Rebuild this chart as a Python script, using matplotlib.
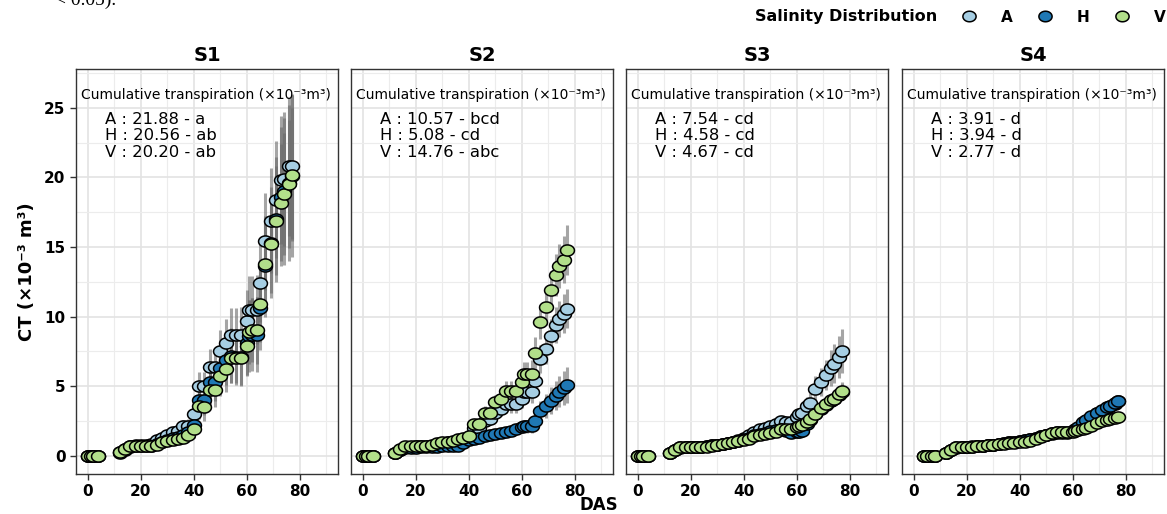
import matplotlib.pyplot as plt
import numpy as np
from matplotlib.path import Path
from matplotlib.lines import Line2D
from matplotlib.ticker import MultipleLocator

DAYS = [0, 1, 2, 4, 12, 14, 16, 18, 20, 22, 24, 26, 28, 30, 32, 34, 36, 38, 40, 42,
	44, 46, 48, 50, 52, 54, 56, 58, 60, 61, 62, 64, 65, 67, 69, 71, 73, 74, 76, 77]
DAYS_S4 = [4, 5, 7, 8] + DAYS[4:]

# cumulative transpiration (x10^-3 m3)
S1_A = [0, 0, 0, 0, 0.25, 0.5, 0.7, 0.75, 0.78, 0.8, 0.85, 1.1, 1.3, 1.45, 1.67, 1.8, 2.15, 2.15, 3.0, 5.0,
	5.0, 6.4, 6.4, 7.5, 8.1, 8.7, 8.7, 8.7, 9.7, 10.5, 10.5, 10.5, 12.4, 15.4, 16.9, 18.4, 19.8, 19.9, 20.8, 20.8]
S1_H = [0, 0, 0, 0, 0.2, 0.4, 0.65, 0.68, 0.7, 0.7, 0.72, 0.85, 1.0, 1.15, 1.25, 1.35, 1.5, 1.7, 2.2, 4.0,
	4.0, 5.3, 5.3, 6.3, 6.9, 7.2, 7.1, 7.1, 8.1, 8.6, 8.7, 8.7, 10.6, 13.6, 15.3, 17.0, 18.6, 19.0, 19.6, 20.1]
S1_V = [0, 0, 0, 0, 0.25, 0.45, 0.68, 0.7, 0.7, 0.7, 0.72, 0.8, 0.95, 1.05, 1.1, 1.17, 1.3, 1.45, 1.9, 3.6,
	3.5, 4.7, 4.7, 5.7, 6.2, 7.0, 7.0, 7.0, 7.9, 8.9, 9.0, 9.0, 10.9, 13.8, 15.2, 16.9, 18.2, 18.8, 19.5, 20.2]

S2_A = [0, 0, 0, 0, 0.2, 0.42, 0.62, 0.65, 0.66, 0.67, 0.68, 0.72, 0.82, 0.9, 0.95, 1.0, 1.1, 1.2, 1.35, 1.96,
	1.96, 2.5, 2.6, 3.1, 3.35, 3.7, 3.7, 3.7, 4.1, 4.6, 4.55, 4.55, 5.4, 6.95, 7.7, 8.6, 9.4, 9.8, 10.2, 10.57]
S2_H = [0, 0, 0, 0, 0.18, 0.38, 0.55, 0.57, 0.58, 0.6, 0.6, 0.62, 0.65, 0.67, 0.7, 0.72, 0.72, 0.9, 1.1, 1.2,
	1.3, 1.4, 1.5, 1.55, 1.65, 1.7, 1.75, 1.95, 2.05, 2.1, 2.1, 2.1, 2.5, 3.2, 3.55, 3.95, 4.3, 4.6, 4.85, 5.08]
S2_V = [0, 0, 0, 0, 0.2, 0.45, 0.67, 0.68, 0.68, 0.68, 0.68, 0.75, 0.9, 0.96, 1.0, 1.08, 1.2, 1.3, 1.4, 2.27,
	2.27, 3.1, 3.1, 3.83, 4.1, 4.66, 4.66, 4.66, 5.3, 5.85, 5.85, 5.85, 7.4, 9.6, 10.66, 11.9, 13.0, 13.65, 14.1, 14.76]

S3_A = [0, 0, 0, 0, 0.2, 0.44, 0.6, 0.6, 0.6, 0.62, 0.64, 0.67, 0.73, 0.8, 0.86, 0.93, 1.0, 1.1, 1.3, 1.5,
	1.7, 1.9, 2.0, 2.15, 2.3, 2.5, 2.45, 2.4, 2.8, 3.0, 3.1, 3.6, 3.8, 4.8, 5.3, 5.8, 6.3, 6.6, 7.1, 7.54]
S3_H = [0, 0, 0, 0, 0.2, 0.42, 0.58, 0.6, 0.6, 0.6, 0.62, 0.66, 0.73, 0.78, 0.85, 0.92, 1.0, 1.08, 1.2, 1.3,
	1.45, 1.55, 1.65, 1.75, 1.85, 1.95, 1.75, 1.66, 1.68, 1.7, 1.75, 2.3, 2.55, 3.0, 3.35, 3.65, 3.95, 4.1, 4.35, 4.58]
S3_V = [0, 0, 0, 0, 0.2, 0.44, 0.6, 0.6, 0.6, 0.6, 0.62, 0.65, 0.72, 0.77, 0.84, 0.9, 0.96, 1.02, 1.12, 1.22,
	1.38, 1.48, 1.58, 1.65, 1.72, 1.9, 1.9, 1.9, 2.05, 2.15, 2.2, 2.45, 2.6, 3.0, 3.4, 3.7, 3.98, 4.1, 4.4, 4.67]

S4_A = [0, 0, 0, 0, 0.2, 0.4, 0.6, 0.63, 0.65, 0.66, 0.68, 0.71, 0.76, 0.8, 0.84, 0.9, 0.95, 1.0, 1.05, 1.1,
	1.18, 1.28, 1.38, 1.48, 1.58, 1.66, 1.65, 1.66, 1.74, 1.85, 1.98, 2.38, 2.5, 2.78, 3.04, 3.24, 3.45, 3.55, 3.72, 3.91]
S4_H = [0, 0, 0, 0, 0.18, 0.38, 0.58, 0.62, 0.64, 0.65, 0.67, 0.7, 0.76, 0.8, 0.85, 0.9, 0.95, 1.0, 1.05, 1.12,
	1.2, 1.3, 1.4, 1.5, 1.6, 1.68, 1.67, 1.67, 1.75, 1.9, 2.05, 2.45, 2.58, 2.85, 3.1, 3.3, 3.5, 3.6, 3.78, 3.94]
S4_V = [0, 0, 0, 0, 0.19, 0.4, 0.6, 0.63, 0.65, 0.65, 0.66, 0.68, 0.74, 0.78, 0.82, 0.86, 0.9, 0.93, 0.96, 1.0,
	1.06, 1.18, 1.32, 1.5, 1.62, 1.72, 1.68, 1.67, 1.72, 1.78, 1.82, 1.95, 2.02, 2.15, 2.32, 2.46, 2.58, 2.63, 2.72, 2.77]

# standard deviations
S1_A_SD = [0, 0, 0, 0, 0.05, 0.05, 0.08, 0.1, 0.1, 0.1, 0.1, 0.15, 0.2, 0.25, 0.3, 0.35, 0.4, 0.45, 0.6, 1.0,
	1.0, 1.3, 1.3, 1.5, 1.7, 1.9, 1.9, 2.0, 2.2, 2.4, 2.4, 2.5, 2.8, 3.5, 3.8, 4.2, 4.6, 4.8, 5.0, 5.2]
S1_H_SD = [0, 0, 0, 0, 0.05, 0.05, 0.08, 0.1, 0.1, 0.1, 0.1, 0.15, 0.2, 0.25, 0.3, 0.35, 0.4, 0.5, 0.7, 1.1,
	1.1, 1.4, 1.4, 1.6, 1.8, 2.0, 2.0, 2.1, 2.4, 2.6, 2.6, 2.7, 3.0, 3.6, 4.0, 4.5, 5.0, 5.3, 5.6, 5.8]
S1_V_SD = [0, 0, 0, 0, 0.05, 0.05, 0.08, 0.1, 0.1, 0.1, 0.1, 0.15, 0.2, 0.25, 0.3, 0.35, 0.4, 0.45, 0.6, 1.0,
	1.0, 1.2, 1.2, 1.4, 1.6, 1.8, 1.8, 1.9, 2.1, 2.3, 2.3, 2.4, 2.7, 3.2, 3.5, 3.9, 4.2, 4.4, 4.6, 4.8]
S2_A_SD = [0, 0, 0, 0, 0.03, 0.04, 0.05, 0.05, 0.05, 0.05, 0.05, 0.06, 0.08, 0.1, 0.1, 0.12, 0.14, 0.16, 0.2, 0.3,
	0.3, 0.4, 0.4, 0.5, 0.5, 0.6, 0.6, 0.6, 0.7, 0.8, 0.8, 0.8, 0.9, 1.0, 1.1, 1.2, 1.3, 1.3, 1.4, 1.4]
S2_H_SD = [0, 0, 0, 0, 0.03, 0.04, 0.05, 0.05, 0.05, 0.05, 0.05, 0.05, 0.06, 0.07, 0.08, 0.08, 0.1, 0.12, 0.15, 0.18,
	0.2, 0.22, 0.24, 0.26, 0.28, 0.3, 0.3, 0.35, 0.4, 0.45, 0.45, 0.5, 0.6, 0.75, 0.85, 0.95, 1.05, 1.1, 1.2, 1.3]
S2_V_SD = [0, 0, 0, 0, 0.03, 0.04, 0.05, 0.05, 0.05, 0.05, 0.05, 0.06, 0.08, 0.1, 0.1, 0.12, 0.14, 0.16, 0.2, 0.35,
	0.35, 0.45, 0.5, 0.55, 0.6, 0.7, 0.7, 0.75, 0.8, 0.9, 0.9, 1.0, 1.1, 1.2, 1.3, 1.4, 1.5, 1.6, 1.7, 1.8]
S3_A_SD = [0, 0, 0, 0, 0.02, 0.03, 0.03, 0.03, 0.03, 0.03, 0.04, 0.04, 0.05, 0.05, 0.06, 0.06, 0.07, 0.08, 0.1, 0.12,
	0.14, 0.16, 0.18, 0.2, 0.22, 0.25, 0.25, 0.3, 0.4, 0.45, 0.5, 0.6, 0.7, 0.9, 1.0, 1.1, 1.3, 1.4, 1.5, 1.6]
S3_H_SD = [0, 0, 0, 0, 0.02, 0.03, 0.03, 0.03, 0.03, 0.03, 0.03, 0.03, 0.04, 0.04, 0.05, 0.05, 0.05, 0.06, 0.07, 0.08,
	0.09, 0.1, 0.11, 0.12, 0.13, 0.15, 0.15, 0.18, 0.2, 0.22, 0.24, 0.26, 0.3, 0.35, 0.4, 0.45, 0.5, 0.52, 0.55, 0.6]
S3_V_SD = [0, 0, 0, 0, 0.02, 0.03, 0.03, 0.03, 0.03, 0.03, 0.03, 0.03, 0.04, 0.04, 0.05, 0.05, 0.05, 0.06, 0.07, 0.08,
	0.09, 0.1, 0.11, 0.12, 0.13, 0.15, 0.15, 0.18, 0.2, 0.22, 0.24, 0.26, 0.3, 0.35, 0.4, 0.45, 0.5, 0.55, 0.6, 0.65]
S4_A_SD = [0, 0, 0, 0, 0.02, 0.02, 0.02, 0.02, 0.02, 0.03, 0.03, 0.03, 0.03, 0.04, 0.04, 0.04, 0.05, 0.05, 0.05, 0.06,
	0.06, 0.07, 0.07, 0.08, 0.08, 0.09, 0.09, 0.1, 0.1, 0.11, 0.12, 0.13, 0.14, 0.15, 0.16, 0.18, 0.2, 0.2, 0.22, 0.24]
S4_H_SD = [0, 0, 0, 0, 0.02, 0.02, 0.02, 0.02, 0.02, 0.03, 0.03, 0.03, 0.03, 0.04, 0.04, 0.04, 0.05, 0.05, 0.05, 0.06,
	0.06, 0.07, 0.07, 0.08, 0.08, 0.09, 0.09, 0.1, 0.1, 0.11, 0.12, 0.14, 0.15, 0.16, 0.18, 0.2, 0.22, 0.22, 0.24, 0.26]
S4_V_SD = [0, 0, 0, 0, 0.02, 0.02, 0.02, 0.02, 0.02, 0.03, 0.03, 0.03, 0.03, 0.04, 0.04, 0.04, 0.05, 0.05, 0.05, 0.06,
	0.06, 0.07, 0.07, 0.08, 0.08, 0.09, 0.09, 0.1, 0.1, 0.1, 0.11, 0.12, 0.12, 0.13, 0.14, 0.15, 0.16, 0.16, 0.17, 0.18]

PANELS = ['S1', 'S2', 'S3', 'S4']
TREATMENTS = ['A', 'H', 'V']
COLORS = {'A': '#a6cee3', 'H': '#1f78b4', 'V': '#b2df8a'}
CT_LINES = [
	['A : 21.88 - a', 'H : 20.56 - ab', 'V : 20.20 - ab'],
	['A : 10.57 - bcd', 'H : 5.08 - cd', 'V : 14.76 - abc'],
	['A : 7.54 - cd', 'H : 4.58 - cd', 'V : 4.67 - cd'],
	['A : 3.91 - d', 'H : 3.94 - d', 'V : 2.77 - d'],
]

series = {
	'S1': (DAYS, [(S1_A, S1_A_SD), (S1_H, S1_H_SD), (S1_V, S1_V_SD)]),
	'S2': (DAYS, [(S2_A, S2_A_SD), (S2_H, S2_H_SD), (S2_V, S2_V_SD)]),
	'S3': (DAYS, [(S3_A, S3_A_SD), (S3_H, S3_H_SD), (S3_V, S3_V_SD)]),
	'S4': (DAYS_S4, [(S4_A, S4_A_SD), (S4_H, S4_H_SD), (S4_V, S4_V_SD)]),
}

# slightly wide ellipse, as in the original
t = np.linspace(0, 2 * np.pi, 60)
ellipse = Path(np.column_stack([1.25 * np.cos(t), np.sin(t)]), closed=True)

fig = plt.figure(figsize=(11.67, 5.14), dpi=100)
lefts = [76, 351, 626, 902]
for i, name in enumerate(PANELS):
	ax = fig.add_axes([lefts[i] / 1167, 40 / 514, 262 / 1167, 405 / 514])
	days, data = series[name]
	for (vals, sd) in data:
		ax.errorbar(days, vals, yerr=sd, fmt='none', ecolor='#6a6a6a', alpha=0.6, elinewidth=2.2, capsize=0, zorder=2)
	for tr, (vals, sd) in zip(TREATMENTS, data):
		ax.plot(days, vals, linestyle='none', marker=ellipse, markersize=10, markerfacecolor=COLORS[tr],
			markeredgecolor='black', markeredgewidth=1.1, zorder=3)

	ax.set_xlim(-4.5, 94.5)
	ax.set_ylim(-1.32, 27.8)
	ax.xaxis.set_major_locator(MultipleLocator(20))
	ax.xaxis.set_minor_locator(MultipleLocator(10))
	ax.yaxis.set_major_locator(MultipleLocator(5))
	ax.yaxis.set_minor_locator(MultipleLocator(2.5))
	ax.set_xticks([0, 20, 40, 60, 80])
	ax.grid(which='major', color='#e3e3e3', linewidth=1.2)
	ax.grid(which='minor', color='#ececec', linewidth=0.8)
	ax.set_axisbelow(True)
	for s in ax.spines.values():
		s.set_color('#333333')
		s.set_linewidth(1.0)
	ax.tick_params(which='minor', length=0)
	ax.tick_params(which='major', length=4, width=1, color='#333333', labelsize=11)
	for lab in ax.get_xticklabels():
		lab.set_fontweight('bold')
	if i == 0:
		for lab in ax.get_yticklabels():
			lab.set_fontweight('bold')
		ax.set_ylabel('CT (×10⁻³ m³)', fontsize=13, fontweight='bold', labelpad=6)
	else:
		ax.tick_params(axis='y', left=False, labelleft=False)
	ax.set_title(name, fontsize=14, fontweight='bold', pad=6)

	ax.text(0.02, 0.936, 'Cumulative transpiration (×10⁻³m³)', transform=ax.transAxes, fontsize=10, va='center')
	for k, line in enumerate(CT_LINES[i]):
		ax.text(0.11, 0.8765 - k * 0.041, line, transform=ax.transAxes, fontsize=11.8, va='center')

fig.text(0.513, 0.017, 'DAS', ha='center', va='center', fontsize=12, fontweight='bold')

# legend
fig.text(755 / 1167, 1 - 17 / 514, 'Salinity Distribution', ha='left', va='center', fontsize=11.5, fontweight='bold')
handles = [Line2D([], [], linestyle='none', marker=ellipse, markersize=9.5, markerfacecolor=COLORS[tr],
	markeredgecolor='black', markeredgewidth=1.1) for tr in TREATMENTS]
fig.legend(handles, TREATMENTS, loc='center left', bbox_to_anchor=(946 / 1167, 1 - 17 / 514), ncol=3,
	frameon=False, handlelength=1.2, handletextpad=1.5, columnspacing=1.5, prop={'weight': 'bold', 'size': 11})

# fragment of the caption above the figure (cut off at the top, as in the original)
fig.text(55 / 1167, 1 - 5 / 514, '< 0.05).', fontsize=14, family='Liberation Serif', va='baseline')

fig.savefig('out.png', dpi=100)
